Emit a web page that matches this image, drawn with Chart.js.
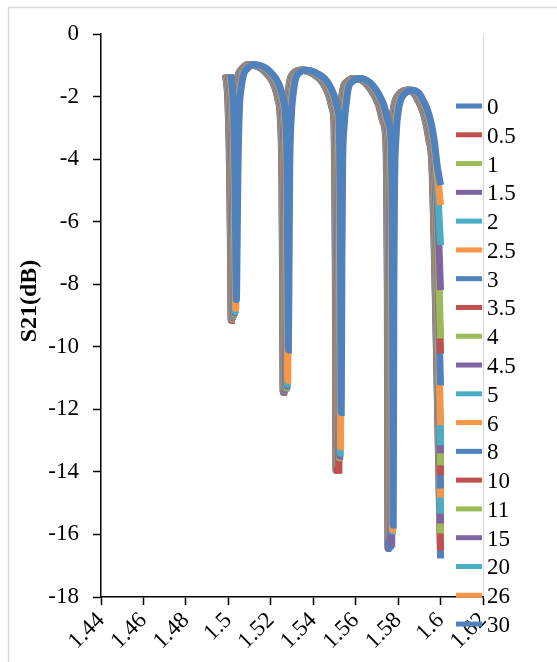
<!DOCTYPE html>
<html>
<head>
<meta charset="utf-8">
<script src="https://cdn.jsdelivr.net/npm/chart.js@4.4.0/dist/chart.umd.min.js"></script>
<style>
  html, body { margin: 0; padding: 0; background: #fff; }
  #wrap { width: 557px; height: 662px; position: relative; }
</style>
</head>
<body>
<div id="wrap"><canvas id="chart" width="557" height="662"></canvas></div>
<script>
// series names (legend)
const seriesNames = ['0', '0.5', '1', '1.5', '2', '2.5', '3', '3.5', '4', '4.5', '5', '6', '8', '10', '11', '15', '20', '26', '30'];

// common curve shape, wavelength (um) vs S21 (dB); null = notch bottom (per series)
const wavelength = [
  1.5000, 1.5011, 1.5019, 1.5023, 1.5026, 1.5029, 1.5033, 1.5040, 1.5049, 1.5059,
  1.5078, 1.5101, 1.5134, 1.5167, 1.5195, 1.5214, 1.5233, 1.5247, 1.5257,
  1.5265, 1.5268, 1.5271, 1.5274, 1.5277,
  1.5285, 1.5294, 1.5304, 1.5322, 1.5351, 1.5384, 1.5417, 1.5445, 1.5468, 1.5487, 1.5501, 1.5511,
  1.5514, 1.5517, 1.5520, 1.5523, 1.5526,
  1.5534, 1.5544, 1.5553, 1.5572, 1.5605, 1.5638, 1.5671, 1.5699, 1.5722, 1.5741, 1.5755,
  1.5759, 1.5762, 1.5765, 1.5768, 1.5771,
  1.5779, 1.5788, 1.5798, 1.5817, 1.5854, 1.5887, 1.5906, 1.5925, 1.5944, 1.5958, 1.5972
];
const s21Shape = [
  -1.30, -2.2, -4.5, -7.0, null, -7.0, -4.5, -2.4, -1.7, -1.31,
  -1.10, -0.98, -1.00, -1.10, -1.28, -1.45, -1.72, -2.10, -2.60,
  -4.5, -7.5, null, -7.5, -4.5,
  -2.6, -1.9, -1.45, -1.24, -1.16, -1.19, -1.30, -1.45, -1.68, -1.98, -2.35, -2.90,
  -4.5, -7.5, null, -7.5, -4.5,
  -2.9, -2.2, -1.75, -1.52, -1.42, -1.47, -1.66, -1.95, -2.30, -2.80, -3.40,
  -5.0, -8.0, null, -8.0, -5.0,
  -3.2, -2.5, -2.15, -1.92, -1.80, -1.90, -2.12, -2.40, -2.85, -3.40, -4.20
];

// per-series values
const shiftUm = [-0.0013, -0.0012, -0.0011, -0.0010, -0.0009, -0.0008, -0.0007, -0.0006, -0.0005, -0.0004,
  -0.0003, -0.0002, -0.0001, 0.0001, 0.0003, 0.0005, 0.0007, 0.0009, 0.0012];
const notch1 = [-9.15, -9.15, -9.12, -9.12, -9.10, -9.10, -9.08, -9.06, -9.05, -9.04, -9.02, -9.00, -8.98, -8.96, -8.95, -8.92, -8.88, -8.78, -8.50];
const notch2 = [-11.45, -11.45, -11.42, -11.44, -11.40, -11.38, -11.38, -11.36, -11.34, -11.33, -11.32, -11.30, -11.30, -11.28, -11.30, -11.25, -11.20, -11.07, -10.10];
const notch3 = [-13.95, -13.95, -13.90, -13.88, -13.85, -13.85, -13.80, -13.95, -13.75, -13.70, -13.70, -13.65, -13.60, -13.95, -13.55, -13.50, -13.40, -13.20, -12.10];
const notch4 = [-16.45, -16.40, -16.30, -16.35, -16.25, -16.20, -16.40, -16.15, -16.10, -16.30, -16.05, -16.00, -16.35, -15.95, -15.95, -16.30, -15.90, -15.85, -15.70];
const endS21 = [-16.77, -16.51, -15.97, -15.65, -15.33, -14.82, -14.53, -14.11, -13.79, -13.41, -13.15, -12.51, -11.23, -10.21, -9.73, -8.19, -6.75, -5.47, -4.83];
const endWavelength = 1.6;

// axis ticks
const xTicks = [1.44, 1.46, 1.48, 1.5, 1.52, 1.54, 1.56, 1.58, 1.6, 1.62];
const yTicks = [0, -2, -4, -6, -8, -10, -12, -14, -16, -18];
const yTitle = 'S21(dB)';

const palette = ['#4F81BD', '#C0504D', '#9BBB59', '#8064A2', '#4BACC6', '#F79646'];
const FONT = '"Liberation Serif", "Times New Roman", serif';

const notches = [notch1, notch2, notch3, notch4];
const datasets = seriesNames.map((name, k) => {
  let n = 0;
  const pts = wavelength.map((w, i) => {
    const v = s21Shape[i] === null ? notches[n++][k] : s21Shape[i];
    return { x: w + shiftUm[k], y: v };
  });
  pts.push({ x: endWavelength, y: endS21[k] });
  return {
    label: name,
    data: pts,
    borderColor: palette[k % palette.length],
    backgroundColor: palette[k % palette.length],
    borderWidth: 7,
    pointRadius: 0,
    cubicInterpolationMode: 'monotone',
    order: seriesNames.length - k
  };
});

const extras = {
  id: 'extras',
  beforeDraw(chart) {
    const ctx = chart.ctx;
    ctx.save();
    ctx.strokeStyle = '#d9d9d9';
    ctx.lineWidth = 1.5;
    ctx.strokeRect(8.5, 7.5, 700, 700);
    const a = chart.chartArea;
    ctx.lineWidth = 1;
    ctx.beginPath();
    ctx.moveTo(a.right + 0.5, a.top);
    ctx.lineTo(a.right + 0.5, a.bottom);
    ctx.stroke();
    // y axis title
    ctx.translate(30, 301);
    ctx.rotate(-Math.PI / 2);
    ctx.font = 'bold 24px ' + FONT;
    ctx.fillStyle = '#000';
    ctx.textAlign = 'center';
    ctx.textBaseline = 'middle';
    ctx.fillText(yTitle, 0, 0);
    ctx.restore();
  },
  afterDraw(chart) {
    const ctx = chart.ctx;
    ctx.save();
    ctx.font = '23px ' + FONT;
    ctx.fillStyle = '#000';
    ctx.textBaseline = 'alphabetic';
    chart.data.datasets.forEach((ds, i) => {
      const y = 106 + i * 28.78;
      ctx.strokeStyle = ds.borderColor;
      ctx.lineWidth = 5;
      ctx.beginPath();
      ctx.moveTo(456, y);
      ctx.lineTo(482, y);
      ctx.stroke();
      ctx.fillText(ds.label, 487, y + 8);
    });
    ctx.restore();
  }
};

new Chart(document.getElementById('chart'), {
  type: 'line',
  data: { datasets },
  plugins: [extras],
  options: {
    responsive: false,
    animation: false,
    devicePixelRatio: 1,
    layout: { padding: { left: 8, right: 74, top: 34, bottom: 0 } },
    plugins: { legend: { display: false }, tooltip: { enabled: false } },
    scales: {
      x: {
        type: 'linear',
        min: 1.44,
        max: 1.62,
        afterBuildTicks: s => { s.ticks = xTicks.map(v => ({ value: v })); },
        afterFit: s => { s.height = 65; },
        ticks: {
          autoSkip: false,
          minRotation: 45,
          maxRotation: 45,
          padding: 2,
          color: '#000',
          font: { family: FONT, size: 23 },
          callback: v => String(+v.toFixed(2))
        },
        grid: { drawOnChartArea: false, tickLength: 8, tickColor: '#000', tickWidth: 1.5 },
        border: { color: '#000', width: 1.5 }
      },
      y: {
        type: 'linear',
        min: -18,
        max: 0,
        afterBuildTicks: s => { s.ticks = yTicks.map(v => ({ value: v })); },
        afterFit: s => { s.width = 93; },
        ticks: {
          padding: 14,
          color: '#000',
          font: { family: FONT, size: 23 },
          callback: v => String(v)
        },
        grid: { drawOnChartArea: false, tickLength: 8, tickColor: '#000', tickWidth: 1.5 },
        border: { color: '#000', width: 1.5 }
      }
    }
  }
});
</script>
</body>
</html>
